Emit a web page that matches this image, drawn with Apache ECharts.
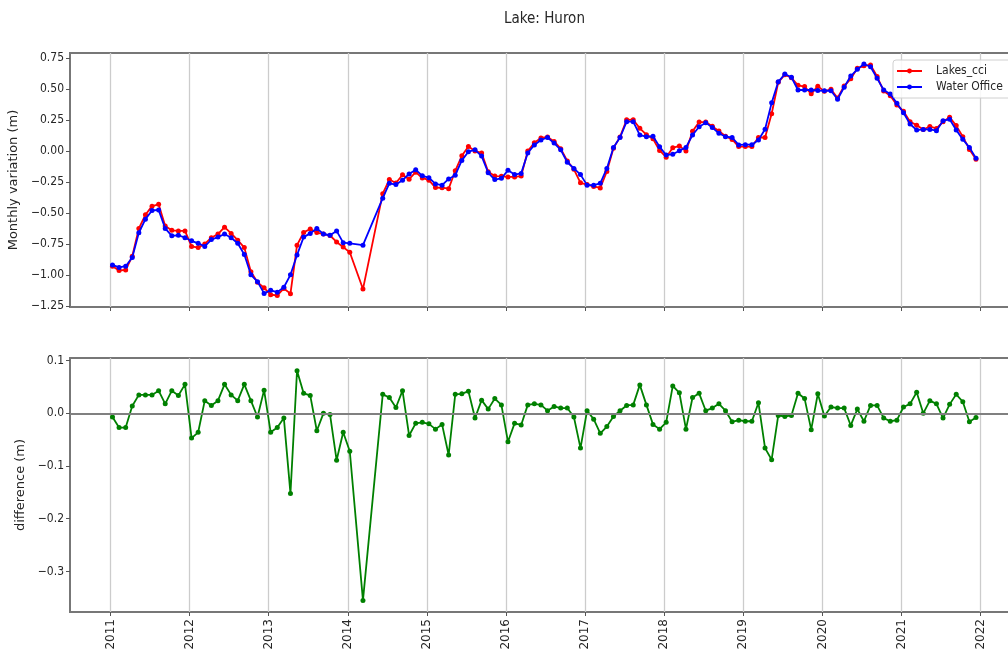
<!DOCTYPE html>
<html>
<head>
<meta charset="utf-8">
<script src="https://cdn.jsdelivr.net/npm/echarts@6/dist/echarts.min.js"></script>
<style>html,body{margin:0;padding:0;background:#fff}#c{width:1008px;height:654px}</style>
</head>
<body>
<div id="c"></div>
<script>
// Monthly dates (2014-02, 2014-04, 2014-05 have no data)
const months = [
 '2011-01','2011-02','2011-03','2011-04','2011-05','2011-06','2011-07','2011-08','2011-09','2011-10','2011-11','2011-12',
 '2012-01','2012-02','2012-03','2012-04','2012-05','2012-06','2012-07','2012-08','2012-09','2012-10','2012-11','2012-12',
 '2013-01','2013-02','2013-03','2013-04','2013-05','2013-06','2013-07','2013-08','2013-09','2013-10','2013-11','2013-12',
 '2014-01','2014-03','2014-06','2014-07','2014-08','2014-09','2014-10','2014-11','2014-12',
 '2015-01','2015-02','2015-03','2015-04','2015-05','2015-06','2015-07','2015-08','2015-09','2015-10','2015-11','2015-12',
 '2016-01','2016-02','2016-03','2016-04','2016-05','2016-06','2016-07','2016-08','2016-09','2016-10','2016-11','2016-12',
 '2017-01','2017-02','2017-03','2017-04','2017-05','2017-06','2017-07','2017-08','2017-09','2017-10','2017-11','2017-12',
 '2018-01','2018-02','2018-03','2018-04','2018-05','2018-06','2018-07','2018-08','2018-09','2018-10','2018-11','2018-12',
 '2019-01','2019-02','2019-03','2019-04','2019-05','2019-06','2019-07','2019-08','2019-09','2019-10','2019-11','2019-12',
 '2020-01','2020-02','2020-03','2020-04','2020-05','2020-06','2020-07','2020-08','2020-09','2020-10','2020-11','2020-12',
 '2021-01','2021-02','2021-03','2021-04','2021-05','2021-06','2021-07','2021-08','2021-09','2021-10','2021-11','2021-12'
];
const lakesCci = [
 -0.93,-0.965,-0.96,-0.85,-0.625,-0.515,-0.445,-0.43,-0.605,-0.64,-0.645,-0.645,
 -0.77,-0.78,-0.75,-0.70,-0.67,-0.615,-0.665,-0.72,-0.78,-0.975,-1.06,-1.105,
 -1.16,-1.167,-1.11,-1.152,-0.76,-0.657,-0.63,-0.658,-0.67,-0.682,-0.734,-0.776,
 -0.817,-1.115,-0.344,-0.23,-0.258,-0.192,-0.227,-0.17,-0.217,
 -0.235,-0.295,-0.296,-0.304,-0.159,-0.038,0.037,0.001,-0.015,-0.167,-0.202,-0.204,
 -0.209,-0.209,-0.202,0.001,0.068,0.106,0.115,0.078,0.02,-0.08,-0.147,-0.256,
 -0.27,-0.286,-0.298,-0.165,0.024,0.115,0.253,0.254,0.184,0.133,0.099,0.005,
 -0.049,0.027,0.042,0.0,0.16,0.235,0.235,0.20,0.162,0.121,0.094,0.037,
 0.037,0.037,0.11,0.11,0.302,0.556,0.617,0.593,0.532,0.522,0.463,0.525,
 0.483,0.50,0.429,0.526,0.584,0.669,0.689,0.697,0.603,0.485,0.447,0.373,
 0.322,0.237,0.21,0.175,0.199,0.183,0.237,0.274,0.206,0.117,0.014,-0.066
];
const waterOffice = [
 -0.92,-0.94,-0.93,-0.86,-0.66,-0.55,-0.48,-0.475,-0.625,-0.685,-0.68,-0.70,
 -0.725,-0.745,-0.77,-0.715,-0.695,-0.67,-0.70,-0.745,-0.835,-1.00,-1.055,-1.15,
 -1.125,-1.14,-1.10,-1.00,-0.84,-0.695,-0.665,-0.625,-0.67,-0.68,-0.645,-0.74,
 -0.745,-0.76,-0.38,-0.26,-0.27,-0.235,-0.185,-0.15,-0.20,
 -0.215,-0.265,-0.275,-0.225,-0.195,-0.075,-0.005,0.01,-0.04,-0.175,-0.23,-0.22,
 -0.155,-0.19,-0.18,-0.015,0.05,0.09,0.11,0.065,0.01,-0.09,-0.14,-0.19,
 -0.275,-0.275,-0.26,-0.14,0.03,0.11,0.238,0.238,0.13,0.117,0.12,0.035,
 -0.032,-0.025,0.003,0.03,0.13,0.197,0.23,0.19,0.144,0.116,0.11,0.05,
 0.052,0.052,0.09,0.176,0.39,0.56,0.623,0.597,0.494,0.494,0.494,0.49,
 0.488,0.488,0.419,0.516,0.607,0.661,0.704,0.682,0.588,0.494,0.462,0.386,
 0.31,0.219,0.17,0.175,0.175,0.165,0.246,0.257,0.17,0.095,0.03,-0.058
];
const difference = [
 -0.007,-0.027,-0.027,0.014,0.035,0.035,0.035,0.043,0.018,0.043,0.034,0.055,
 -0.047,-0.036,0.024,0.015,0.024,0.055,0.035,0.024,0.055,0.024,-0.007,0.044,
 -0.036,-0.027,-0.009,-0.152,0.081,0.038,0.034,-0.033,0.0,-0.002,-0.089,-0.036,
 -0.072,-0.355,0.036,0.03,0.011,0.043,-0.042,-0.019,-0.017,
 -0.02,-0.03,-0.021,-0.079,0.036,0.037,0.042,-0.009,0.025,0.008,0.028,0.016,
 -0.054,-0.019,-0.022,0.016,0.018,0.016,0.005,0.013,0.01,0.01,-0.007,-0.066,
 0.005,-0.011,-0.038,-0.025,-0.006,0.005,0.015,0.016,0.054,0.016,-0.021,-0.03,
 -0.017,0.052,0.039,-0.03,0.03,0.038,0.005,0.01,0.018,0.005,-0.016,-0.013,
 -0.015,-0.015,0.02,-0.066,-0.088,-0.004,-0.006,-0.004,0.038,0.028,-0.031,0.037,
 -0.005,0.012,0.01,0.01,-0.023,0.008,-0.015,0.015,0.015,-0.009,-0.015,-0.013,
 0.012,0.018,0.04,0.0,0.024,0.018,-0.009,0.017,0.036,0.022,-0.016,-0.008
];
const yearTicks = [2011,2012,2013,2014,2015,2016,2017,2018,2019,2020,2021,2022];
const topTicks = [-1.25,-1.0,-0.75,-0.5,-0.25,0,0.25,0.5,0.75];
const diffTicks = [-0.3,-0.2,-0.1,0,0.1];

const FONT_H = "'DejaVu Sans Condensed', 'DejaVu Sans', sans-serif";
const FONT_V = "'DejaVu Sans', sans-serif";
const TXT = '#262626';
const SPINE = '#777777';

function toYear(s) { const p = s.split('-'); return Number(p[0]) + (Number(p[1]) - 0.7) / 12; }
function fmt(v, d) { return (v < 0 ? '\u2212' : '') + Math.abs(v).toFixed(d); }
const pts = arr => months.map((m, i) => [toYear(m), arr[i]]);

function xAxis(k) {
  return {
    type: 'value', gridIndex: k, min: 2010.488, max: 2022.498,
    axisLine: { show: false, onZero: false },
    axisTick: { show: true, customValues: yearTicks, length: 4, lineStyle: { color: '#555', width: 1 } },
    axisLabel: { show: k === 1, customValues: yearTicks, rotate: 90, formatter: v => String(Math.round(v)),
      fontFamily: FONT_V, fontSize: 12, color: TXT, margin: 7 },
    splitLine: { show: true, lineStyle: { color: '#cccccc', width: 1.3 } }
  };
}
function yAxis(k, min, max, ticks, dec, name, gap) {
  return {
    type: 'value', gridIndex: k, min: min, max: max,
    axisLine: { show: false, onZero: false }, splitLine: { show: false },
    axisTick: { show: true, customValues: ticks, length: 4, lineStyle: { color: '#555', width: 1 } },
    axisLabel: { customValues: ticks, formatter: v => fmt(v, dec), fontFamily: FONT_H, fontSize: 12, color: TXT, margin: 6 },
    name: name, nameLocation: 'middle', nameGap: gap, nameRotate: 90,
    nameTextStyle: { fontFamily: FONT_V, fontSize: 13, color: TXT }
  };
}
const lineSeries = (name, data, color, xi, z) => ({
  name: name, type: 'line', xAxisIndex: xi, yAxisIndex: xi, data: data, z: z,
  symbol: 'circle', symbolSize: 5, showSymbol: true,
  lineStyle: { color: color, width: 1.8 }, itemStyle: { color: color },
  emphasis: { disabled: true }
});

const chart = echarts.init(document.getElementById('c'), null, { renderer: 'canvas' });
const diffSeries = lineSeries('difference', pts(difference), '#008000', 1, 3);
diffSeries.markLine = {
  silent: true, symbol: 'none', label: { show: false }, animation: false,
  lineStyle: { color: '#808080', width: 2, type: 'solid' }, data: [{ yAxis: 0 }]
};
chart.setOption({
  animation: false,
  backgroundColor: '#fff',
  title: { text: 'Lake: Huron', left: 504, top: 12, padding: 0,
    textStyle: { fontFamily: FONT_H, fontSize: 15, fontWeight: 'normal', color: TXT } },
  legend: {
    data: ['Lakes_cci', 'Water Office'], orient: 'vertical', left: 893, top: 60,
    itemWidth: 25, itemHeight: 6, itemGap: 4, padding: [5, 30, 5, 3],
    backgroundColor: 'rgba(255,255,255,0.85)', borderColor: '#d0d0d0', borderWidth: 1, borderRadius: 3,
    textStyle: { fontFamily: FONT_H, fontSize: 12, color: TXT, padding: [0, 0, 0, 9] }
  },
  grid: [
    { left: 70, width: 950, top: 53, height: 254, outerBoundsMode: 'none', containLabel: false,
      show: true, borderColor: SPINE, borderWidth: 2, backgroundColor: 'transparent' },
    { left: 70, width: 950, top: 358, height: 254, outerBoundsMode: 'none', containLabel: false,
      show: true, borderColor: SPINE, borderWidth: 2, backgroundColor: 'transparent' }
  ],
  xAxis: [xAxis(0), xAxis(1)],
  yAxis: [
    yAxis(0, -1.26, 0.793, topTicks, 2, 'Monthly variation (m)', 46),
    yAxis(1, -0.377, 0.105, diffTicks, 1, 'difference (m)', 38)
  ],
  series: [
    lineSeries('Lakes_cci', pts(lakesCci), '#ff0000', 0, 2),
    lineSeries('Water Office', pts(waterOffice), '#0000ff', 0, 3),
    diffSeries
  ]
});
</script>
</body>
</html>
